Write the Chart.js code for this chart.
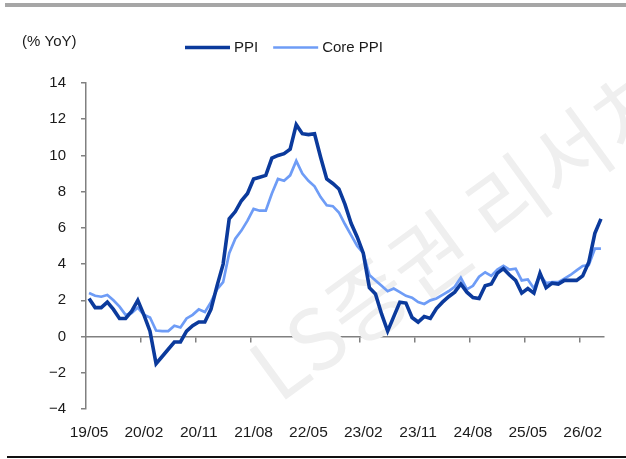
<!DOCTYPE html>
<html>
<head>
<meta charset="utf-8">
<script src="https://cdn.jsdelivr.net/npm/chart.js@4.4.1/dist/chart.umd.min.js"></script>
<style>
    html, body { margin: 0; padding: 0; background: #fff; }
    .wrap { position: relative; width: 626px; height: 459px; overflow: hidden; }
    .wrap canvas { position: absolute; left: 0; top: 0; }
    .top-rule { position: absolute; left: 5px; right: 0; top: 3px; height: 4px; background: #a6a6a6; }
    .bottom-rule { position: absolute; left: 7px; right: 0; top: 456px; height: 1.5px; background: #111; }
</style>
</head>
<body>
<div class="wrap">
    <canvas id="ppiChart" width="626" height="459"></canvas>
    <div class="top-rule"></div>
    <div class="bottom-rule"></div>
</div>
<script>
// --- data ---
// monthly, 19/05 .. 26/05
const months = (() => {
    const out = [];
    let y = 19, m = 5;
    while (!(y === 26 && m === 6)) {
        out.push(`${y}/${String(m).padStart(2, '0')}`);
        m++;
        if (m > 12) { m = 1; y++; }
    }
    return out;
})();

const ppi = [
    2.1, 1.6, 1.6, 1.9, 1.5, 1.0, 1.0, 1.4, 2.0, 1.2,
    0.3, -1.5, -1.1, -0.7, -0.3, -0.3, 0.3, 0.6, 0.8, 0.8,
    1.5, 2.8, 4.0, 6.5, 6.9, 7.5, 7.9, 8.7, 8.8, 8.9,
    9.85, 10.0, 10.1, 10.35, 11.7, 11.2, 11.15, 11.2, 9.9, 8.7,
    8.45, 8.15, 7.3, 6.25, 5.5, 4.6, 2.7, 2.35, 1.25, 0.3,
    1.1, 1.9, 1.85, 1.05, 0.8, 1.1, 1.0, 1.55, 1.9, 2.2,
    2.45, 2.9, 2.45, 2.15, 2.1, 2.8, 2.9, 3.5, 3.75, 3.4,
    3.1, 2.4, 2.65, 2.4, 3.5, 2.7, 2.95, 2.9, 3.1, 3.1,
    3.1, 3.35, 4.1, 5.7, 6.5
];

const corePpi = [
    2.4, 2.25, 2.2, 2.3, 2.0, 1.65, 1.2, 1.3, 1.6, 1.2,
    1.05, 0.33, 0.3, 0.3, 0.6, 0.5, 1.0, 1.2, 1.5, 1.35,
    1.9, 2.6, 3.0, 4.6, 5.4, 5.85, 6.4, 7.05, 6.95, 6.95,
    7.9, 8.7, 8.6, 8.9, 9.7, 9.0, 8.6, 8.3, 7.7, 7.25,
    7.2, 6.85, 6.2, 5.6, 5.0, 4.6, 3.4, 3.1, 2.8, 2.5,
    2.65, 2.45, 2.25, 2.15, 1.9, 1.8, 2.0, 2.1, 2.3, 2.5,
    2.75, 3.25, 2.6, 2.8, 3.3, 3.55, 3.35, 3.7, 3.9, 3.7,
    3.75, 3.1, 3.15, 2.65, 3.4, 2.95, 3.0, 3.0, 3.2, 3.4,
    3.65, 3.9, 3.95, 4.85, 4.85
];

const tickLabels = ['19/05', '20/02', '20/11', '21/08', '22/05', '23/02', '23/11', '24/08', '25/05', '26/02'];
const yTicks = { min: -4, max: 14, step: 2 };
const unitLabel = '(% YoY)';
const watermark = 'LS증권 리서치';

const FONT = '"Liberation Sans", Arial, sans-serif';
const AXIS_GRAY = '#808080';
const TEXT = '#1a1a1a';

// --- unit label + legend drawn in the header band ---
const headerPlugin = {
    id: 'header',
    afterDraw(chart) {
        const ctx = chart.ctx;
        ctx.save();
        ctx.font = `15px ${FONT}`;
        ctx.fillStyle = TEXT;
        ctx.textBaseline = 'middle';
        ctx.fillText(unitLabel, 22, 42);

        let x = 185;
        chart.data.datasets.forEach(ds => {
            ctx.strokeStyle = ds.borderColor;
            ctx.lineWidth = ds.borderWidth;
            ctx.beginPath();
            ctx.moveTo(x, 47.5);
            ctx.lineTo(x + 45, 47.5);
            ctx.stroke();
            ctx.fillText(ds.label, x + 49, 48);
            x += 49 + ctx.measureText(ds.label).width + 15;
        });
        ctx.restore();
    }
};

// faint diagonal watermark behind the lines
const watermarkPlugin = {
    id: 'watermark',
    beforeDatasetsDraw(chart) {
        const ctx = chart.ctx;
        ctx.save();
        ctx.translate(462, 232);
        ctx.rotate(-36 * Math.PI / 180);
        ctx.font = '84px "Noto Sans CJK KR", sans-serif';
        ctx.fillStyle = '#efefef';
        ctx.textAlign = 'center';
        ctx.textBaseline = 'middle';
        ctx.fillText(watermark, 0, 0);
        ctx.restore();
    }
};

new Chart(document.getElementById('ppiChart'), {
    type: 'line',
    data: {
        labels: months,
        datasets: [
            {
                label: 'PPI',
                data: ppi,
                borderColor: '#0b3a9c',
                backgroundColor: '#0b3a9c',
                borderWidth: 3.6,
                pointRadius: 0,
                tension: 0
            },
            {
                label: 'Core PPI',
                data: corePpi,
                borderColor: '#6e9cf6',
                backgroundColor: '#6e9cf6',
                borderWidth: 2.7,
                pointRadius: 0,
                tension: 0
            }
        ]
    },
    options: {
        responsive: false,
        animation: false,
        devicePixelRatio: 1,
        layout: { padding: { top: 83, right: 22, bottom: 0, left: 0 } },
        plugins: {
            legend: { display: false },
            tooltip: { enabled: false }
        },
        scales: {
            x: {
                type: 'category',
                offset: true,
                grid: { display: false },
                border: { display: false },
                ticks: {
                    autoSkip: false,
                    maxRotation: 0,
                    minRotation: 0,
                    padding: 6,
                    color: TEXT,
                    font: { family: FONT, size: 15.5 },
                    callback: (v, i) => tickLabels.includes(months[i]) ? months[i] : ''
                },
                afterFit: s => { s.height = 50; }
            },
            // axis line sitting on zero with a tick mark every 9 months
            xZero: {
                type: 'category',
                position: { y: 0 },
                offset: true,
                ticks: { display: false },
                grid: {
                    offset: true,
                    drawOnChartArea: false,
                    drawTicks: true,
                    tickLength: 5,
                    lineWidth: 1.5,
                    color: c => (c.index > 0 && c.index % 9 === 0) ? AXIS_GRAY : 'rgba(0,0,0,0)'
                },
                border: { display: true, color: AXIS_GRAY, width: 1.5 }
            },
            y: {
                min: yTicks.min,
                max: yTicks.max,
                ticks: {
                    stepSize: yTicks.step,
                    padding: 15,
                    color: TEXT,
                    font: { family: FONT, size: 15 },
                    callback: v => v < 0 ? '\u2212' + Math.abs(v) : String(v)
                },
                grid: {
                    drawOnChartArea: false,
                    drawTicks: true,
                    tickLength: 5,
                    lineWidth: 1.5,
                    color: AXIS_GRAY
                },
                border: { display: true, color: AXIS_GRAY, width: 1.5 },
                afterFit: s => { s.width = 86; }
            }
        }
    },
    plugins: [watermarkPlugin, headerPlugin]
});
</script>
</body>
</html>
